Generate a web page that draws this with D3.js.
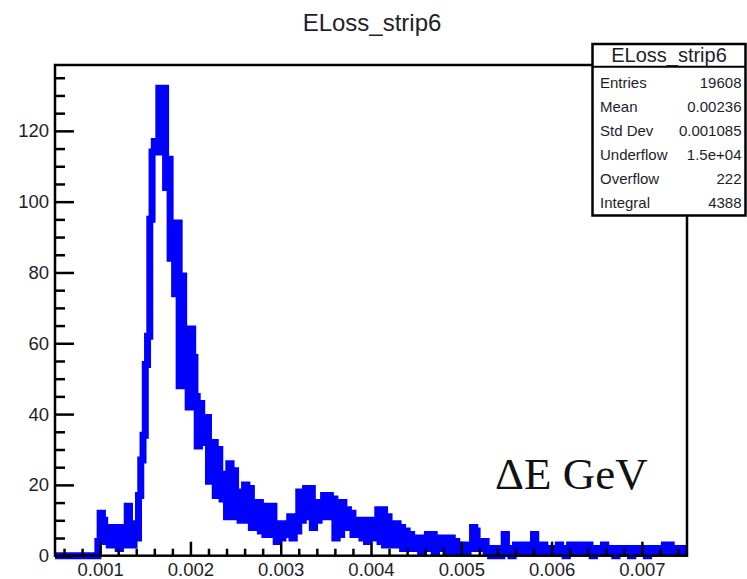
<!DOCTYPE html>
<html>
<head>
<meta charset="utf-8">
<script src="https://cdn.jsdelivr.net/npm/d3@7"></script>
<style>
  body { margin: 0; background: #fff; }
</style>
</head>
<body>
<svg id="chart" width="747" height="579"></svg>
<script>
// Histogram ELoss_strip6: 280 bins of 0.000025 GeV between 0.0005 and 0.0075
const histTitle = "ELoss_strip6";
const binLow = 0.0005;
const binHigh = 0.0075;
const counts = [
  0,0,0,0,0,0,0,0,0,0,
  0,0,0,0,0,0,0,0,0,4,
  12,10,4,8,3,7,5,8,2,6,
  3,8,14,7,3,9,5,17,27,34,
  54,62,95,114,117,114,132,116,132,104,
  112,84,94,74,94,48,79,62,64,42,
  64,56,45,31,43,39,32,39,21,32,
  32,17,30,22,16,23,11,26,14,24,
  11,18,10,13,20,10,19,8,14,8,
  15,7,11,6,14,7,14,6,4,9,
  5,9,6,8,11,5,11,7,18,10,
  17,19,11,19,8,15,10,15,11,17,
  12,17,11,16,5,12,6,15,9,13,
  8,12,6,10,7,10,5,10,4,9,
  5,10,6,13,4,13,3,11,4,9,
  3,9,4,8,2,7,3,6,2,5,
  2,5,1,4,2,6,3,6,1,5,
  2,5,3,5,1,5,2,4,1,3,
  2,3,1,2,3,8,7,2,4,2,
  4,1,2,0,2,1,2,0,2,6,
  1,2,0,2,3,1,3,2,3,1,
  3,1,6,2,3,1,3,2,1,2,
  2,1,2,3,1,2,0,2,3,1,
  3,2,3,1,2,1,3,2,0,2,
  2,1,2,3,1,2,1,2,0,2,
  1,2,2,1,2,0,2,1,2,1,
  2,2,0,1,2,1,2,1,2,2,
  3,1,3,2,1,2,2,1,2,2
];
const xTickValues = [0.001, 0.002, 0.003, 0.004, 0.005, 0.006, 0.007];
const yTickValues = [0, 20, 40, 60, 80, 100, 120];
const yMax = 138.6;
const statLabels = ["Entries", "Mean", "Std Dev", "Underflow", "Overflow", "Integral"];
const statValues = ["19608", "0.00236", "0.001085", "1.5e+04", "222", "4388"];
const axisNote = "\u0394E GeV";

const sans = '"Liberation Sans", Arial, sans-serif';
const serif = '"Liberation Serif", "Times New Roman", serif';
const svg = d3.select("#chart");
const frame = { left: 55, right: 687, top: 65, bottom: 555.7 };
const ink = "#1e1e2a";

const x = d3.scaleLinear().domain([binLow, binHigh]).range([frame.left, frame.right]);
const y = d3.scaleLinear().domain([0, yMax]).range([frame.bottom, frame.top]);

// title
svg.append("text")
  .attr("x", 372).attr("y", 31)
  .attr("text-anchor", "middle")
  .style("font-family", sans)
  .style("font-size", "24px")
  .attr("fill", ink)
  .text(histTitle);

// histogram outline as a thick step line
const binWidth = (binHigh - binLow) / counts.length;
const pts = counts.map((c, i) => [binLow + i * binWidth, c]);
pts.push([binHigh, counts[counts.length - 1]]);
svg.append("path")
  .datum(pts)
  .attr("fill", "none")
  .attr("stroke", "#0000ff")
  .attr("stroke-width", 7)
  .attr("stroke-linejoin", "miter")
  .attr("d", d3.line().x(d => x(d[0])).y(d => y(d[1])).curve(d3.curveStepAfter));

// frame
svg.append("rect")
  .attr("x", frame.left).attr("y", frame.top)
  .attr("width", frame.right - frame.left)
  .attr("height", frame.bottom - frame.top)
  .attr("fill", "none").attr("stroke", "#000").attr("stroke-width", 2.5);

// x axis: major + minor ticks pointing inward
const xMinor = d3.range(6, 75, 2).filter(i => i % 10 !== 0).map(i => i * 1e-4);
const gxMinor = svg.append("g").attr("transform", `translate(0,${frame.bottom})`)
  .call(d3.axisBottom(x).tickValues(xMinor).tickSize(-7).tickFormat(""));
const gx = svg.append("g").attr("transform", `translate(0,${frame.bottom})`)
  .call(d3.axisBottom(x).tickValues(xTickValues).tickSize(-14).tickPadding(7).tickFormat(d3.format(".3f")));

// y axis
const yMinor = d3.range(5, 139, 5).filter(v => v % 20 !== 0);
const gyMinor = svg.append("g").attr("transform", `translate(${frame.left},0)`)
  .call(d3.axisLeft(y).tickValues(yMinor).tickSize(-10).tickFormat(""));
const gy = svg.append("g").attr("transform", `translate(${frame.left},0)`)
  .call(d3.axisLeft(y).tickValues(yTickValues).tickSize(-19).tickPadding(6).tickFormat(d3.format("d")));

[gxMinor, gx, gyMinor, gy].forEach(g => {
  g.select(".domain").remove();
  g.selectAll(".tick line").attr("stroke", "#000").attr("stroke-width", 2.5);
  g.selectAll(".tick text")
    .style("font-family", sans)
    .style("font-size", "18.5px")
    .attr("fill", ink);
});

// statistics box
const box = { x: 592.5, y: 44, w: 153, h: 171.5, sep: 66.7 };
svg.append("rect")
  .attr("x", box.x).attr("y", box.y).attr("width", box.w).attr("height", box.h)
  .attr("fill", "#fff").attr("stroke", "#000").attr("stroke-width", 2.5);
svg.append("line")
  .attr("x1", box.x).attr("x2", box.x + box.w)
  .attr("y1", box.sep).attr("y2", box.sep)
  .attr("stroke", "#000").attr("stroke-width", 2);
svg.append("text")
  .attr("x", box.x + box.w / 2).attr("y", 61.5)
  .attr("text-anchor", "middle")
  .style("font-family", sans).style("font-size", "20px")
  .attr("fill", ink)
  .text(histTitle);
const rows = svg.append("g");
statLabels.forEach((lab, i) => {
  const yy = 87.5 + 24 * i;
  rows.append("text").attr("x", 600).attr("y", yy)
    .style("font-family", sans).style("font-size", "15px")
    .attr("fill", ink).text(lab);
  rows.append("text").attr("x", 741.5).attr("y", yy)
    .attr("text-anchor", "end")
    .style("font-family", sans).style("font-size", "15px")
    .attr("fill", ink).text(statValues[i]);
});

// axis quantity note
svg.append("text")
  .attr("x", 495).attr("y", 489)
  .style("font-family", serif)
  .style("font-size", "45px")
  .attr("fill", "#111")
  .text(axisNote);
</script>
</body>
</html>
